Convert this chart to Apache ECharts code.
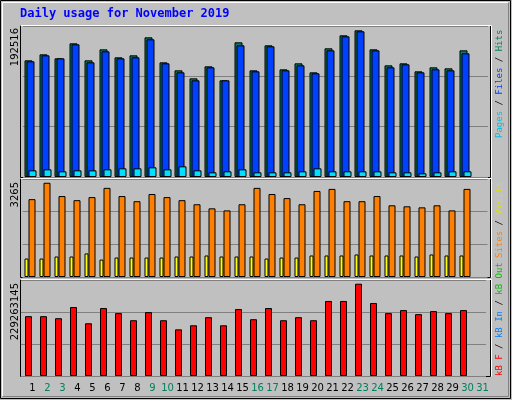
<!DOCTYPE html>
<html><head><meta charset="utf-8">
<script src="https://cdn.jsdelivr.net/npm/echarts@6/dist/echarts.min.js"></script>
<style>html,body{margin:0;padding:0;background:#c0c0c0}#c{width:512px;height:400px}</style>
</head><body><div id="c"></div>
<script>
const days = ['1','2','3','4','5','6','7','8','9','10','11','12','13','14','15','16','17','18','19','20','21','22','23','24','25','26','27','28','29','30','31'];
const weekend = ['2','3','9','10','16','17','23','24','30','31'];
const hits = [153125,161000,155750,175438,153125,167563,157063,159688,183313,150500,140000,129500,145250,126875,176750,140000,172813,141313,149188,137375,168875,185938,192516,167563,146563,149188,138688,143938,142625,166250,null];
const files = [151813,159688,155750,174125,150500,164938,155750,157063,180688,149188,137375,126875,143938,126875,172813,138688,171500,140000,146563,136063,166250,184625,191188,166250,143938,147875,137375,141313,140000,162313,null];
const pages = [8750,10063,7438,8750,8750,10063,11375,11375,12688,10063,14000,8750,6125,7438,10063,6125,6125,6125,7438,11375,7438,7438,7438,7438,6125,6125,4813,6125,7438,7438,null];
const visits = [639,639,710,710,816,603,674,674,674,674,710,710,745,710,710,710,639,674,674,745,745,745,781,745,745,745,710,781,745,745,null];
const sites = [2697,3265,2804,2662,2768,3088,2804,2626,2875,2768,2662,2520,2378,2307,2520,3088,2875,2733,2520,2981,3052,2626,2626,2804,2484,2449,2413,2484,2307,3052,null];
const kbF = [148643000,148643000,143604000,171318000,131008000,168798000,156201000,138566000,158721000,138566000,115891000,125969000,146124000,125969000,166279000,141085000,168798000,138566000,146124000,138566000,186434000,186434000,229263145,181395000,156201000,163759000,153682000,161240000,156201000,163759000,null];
const maxLabels = ['192516','3265','229263145'];

const chart = echarts.init(document.getElementById('c'));
const bs = {borderColor:'#000',borderWidth:1};
function xa(i, show){
  return {type:'category',gridIndex:i,data:days,axisLine:{show:false},axisTick:{show:false},
    axisLabel:{show:show,interval:0,margin:7,padding:[0,0,0,8],fontFamily:'DejaVu Sans',fontSize:10,
      color:(v)=>weekend.includes(v)?'#00805c':'#000'}};
}
function ya(i,max){
  return {type:'value',gridIndex:i,min:0,max:max,interval:max/3,axisLabel:{show:false},axisLine:{show:false},axisTick:{show:false},
    splitLine:{lineStyle:{color:'#808080',width:1}}};
}
const panels = [[25,177],[178,277],[279,376]];
const gfx = [];
panels.forEach(p=>{
  gfx.push({type:'rect',shape:{x:20.5,y:p[0]+0.5,width:470,height:p[1]-p[0]},style:{fill:null,stroke:'#000',lineWidth:1},z:-1});
  gfx.push({type:'polyline',shape:{points:[[20.5,p[0]+0.5],[491.5,p[0]+0.5],[491.5,p[1]+0.5]]},style:{stroke:'#fff',lineWidth:1},z:10});
});
gfx.push({type:'rect',shape:{x:0.5,y:0.5,width:510,height:398},style:{fill:null,stroke:'#000',lineWidth:1}});
gfx.push({type:'polyline',shape:{points:[[2.5,396.5],[2.5,2.5],[508.5,2.5]]},style:{stroke:'#fff',lineWidth:1}});
gfx.push({type:'polyline',shape:{points:[[2.5,396.5],[508.5,396.5],[508.5,2.5]]},style:{stroke:'#808080',lineWidth:1}});
gfx.push({type:'text',left:20,top:8,style:{text:'Daily usage for November 2019',fill:'#0000ff',font:'bold 12px "DejaVu Sans Mono"'}});
[[28,0],[182,1],[283,2]].forEach(a=>{
  gfx.push({type:'text',x:20,y:a[0],rotation:Math.PI/2,style:{text:maxLabels[a[1]],fill:'#000',font:'10px "DejaVu Sans"',align:'right',verticalAlign:'bottom'}});
});
function legend(y,parts){
  const rich={};let txt='';
  parts.forEach((p,i)=>{rich['s'+i]={fill:p[1],font:'9px "DejaVu Sans Mono"'};txt+='{s'+i+'|'+p[0]+'}';});
  gfx.push({type:'text',x:495,y:y,rotation:Math.PI/2,style:{text:txt,rich:rich,align:'left',verticalAlign:'top',font:'9px "DejaVu Sans Mono"'}});
}
legend(138,[['Pages','#00c0e0'],[' / ','#000'],['Files','#0040ff'],[' / ','#000'],['Hits','#00805c']]);
legend(258,[['Sites','#ff8000'],[' / ','#000'],['Visits','#e0e000']]);
legend(376,[['kB F','#ff0000'],[' / ','#000'],['kB In','#0080ff'],[' / ','#000'],['kB Out','#00c000']]);

chart.setOption({
  animation:false,
  grid:[{left:23,right:24,top:26,height:151},{left:22.5,right:24.5,top:179,height:98},{left:21,right:26,top:280,height:96}],
  xAxis:[xa(0,false),xa(1,false),xa(2,true)],
  yAxis:[ya(0,198200),ya(1,3395),ya(2,238500000)],
  series:[
    {type:'bar',xAxisIndex:0,yAxisIndex:0,data:hits,barWidth:8,barGap:'-75%',itemStyle:Object.assign({color:'#00805c'},bs)},
    {type:'bar',xAxisIndex:0,yAxisIndex:0,data:files,barWidth:8,barGap:'-75%',itemStyle:Object.assign({color:'#0040ff'},bs)},
    {type:'bar',xAxisIndex:0,yAxisIndex:0,data:pages,barWidth:8,barGap:'-75%',itemStyle:Object.assign({color:'#00e0ff'},bs)},
    {type:'bar',xAxisIndex:1,yAxisIndex:1,data:visits,barWidth:4,barGap:'0%',itemStyle:Object.assign({color:'#ffff00'},bs)},
    {type:'bar',xAxisIndex:1,yAxisIndex:1,data:sites,barWidth:7,barGap:'0%',itemStyle:Object.assign({color:'#ff8000'},bs)},
    {type:'bar',xAxisIndex:2,yAxisIndex:2,data:kbF,barWidth:7,itemStyle:Object.assign({color:'#ff0000'},bs)}
  ],
  graphic:gfx
});
</script></body></html>
